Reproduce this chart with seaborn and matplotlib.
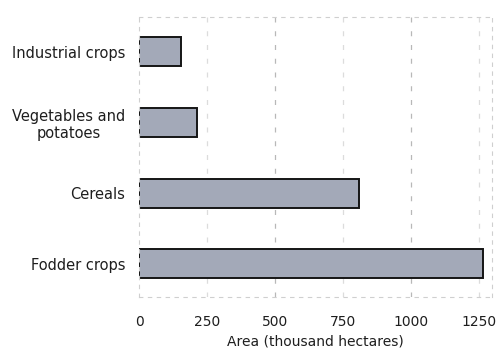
import matplotlib
matplotlib.use('Agg')
import matplotlib.pyplot as plt
import pandas as pd
import seaborn as sns

# Crop areas (thousand hectares)
crops = ['Industrial crops', 'Vegetables and\npotatoes', 'Cereals', 'Fodder crops']
area = [152, 212, 808, 1262]
ticks = [0, 250, 500, 750, 1000, 1250]

df = pd.DataFrame({'crop': crops, 'area': area})

sns.set_theme(style='white')
plt.rcParams['font.family'] = ['DejaVu Sans']

fig = plt.figure(figsize=(4.97, 3.49), dpi=100)
ax = fig.add_axes([0.28, 0.149, 0.71, 0.802])

sns.barplot(data=df, x='area', y='crop', orient='h', width=0.41,
            color='#a3a9b8', edgecolor='#151515', linewidth=1.4, saturation=1, ax=ax)

ax.set_xlim(0, 1297)
ax.set_ylim(3.47, -0.49)
ax.set_xticks(ticks)
ax.set_xticklabels([str(t) for t in ticks], fontsize=10, color='#1e1e1e')
ax.tick_params(axis='x', length=0, pad=13)
ax.tick_params(axis='y', length=0, pad=10, labelsize=10.5, labelcolor='#1e1e1e')
for lab in ax.get_yticklabels():
    lab.set_multialignment('center')

# dashed vertical grid
for t in ticks[1:]:
    strong = t in (500, 1000)
    ax.axvline(t, color='#b8b8b8' if strong else '#dcdcdc', lw=0.9,
               ls=(0, (4, 7)), zorder=0)

for side in ax.spines.values():
    side.set_color('#cfcfcf')
    side.set_linestyle((0, (3, 5)))
    side.set_linewidth(0.8)

ax.set_xlabel('Area (thousand hectares)', fontsize=10, color='#1e1e1e', labelpad=4)
ax.set_ylabel('')

fig.savefig('out.png', dpi=100)
